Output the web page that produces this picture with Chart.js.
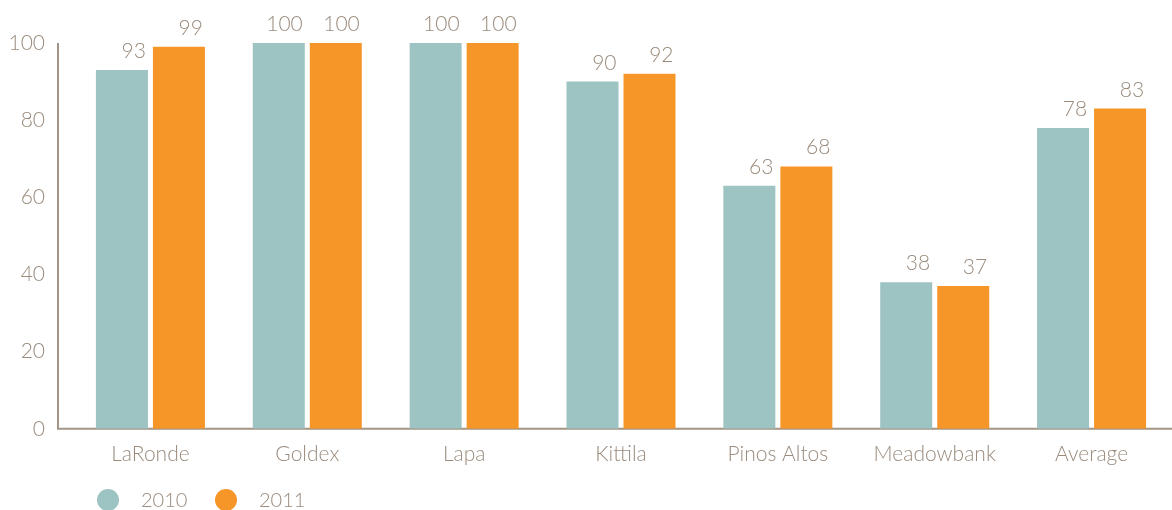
<!DOCTYPE html>
<html>
<head>
<meta charset="utf-8">
<script src="https://cdn.jsdelivr.net/npm/chart.js@4/dist/chart.umd.min.js"></script>
<style>
  html, body { margin: 0; padding: 0; background: #fff; }
  #wrap { width: 1172px; height: 510px; position: relative; }
</style>
</head>
<body>
<div id="wrap"><canvas id="chart"></canvas></div>
<script>
const categories = ["LaRonde", "Goldex", "Lapa", "Kittila", "Pinos Altos", "Meadowbank", "Average"];
const values2010 = [93, 100, 100, 90, 63, 38, 78];
const values2011 = [99, 100, 100, 92, 68, 37, 83];
const yTicks = [0, 20, 40, 60, 80, 100];

const textColor = "#9a8b7d";
const axisColor = "#a39585";
const fontFamily = "Lato, 'Open Sans', sans-serif";

// axis lines drawn a bit left of the plot so the first group sits off the axis
const axisLines = {
  id: "axisLines",
  beforeDatasetsDraw(chart) {
    const { ctx, chartArea } = chart;
    const x0 = chartArea.left - 14;
    ctx.save();
    ctx.strokeStyle = axisColor;
    ctx.lineWidth = 2;
    ctx.beginPath();
    ctx.moveTo(x0, chartArea.top);
    ctx.lineTo(x0, chartArea.bottom);
    ctx.lineTo(chart.width, chartArea.bottom);
    ctx.stroke();
    ctx.restore();
  },
};

// value labels, right aligned over each bar
const barLabels = {
  id: "barLabels",
  afterDatasetsDraw(chart) {
    const { ctx } = chart;
    ctx.save();
    ctx.fillStyle = textColor;
    ctx.font = "300 21px " + fontFamily;
    ctx.textAlign = "right";
    ctx.textBaseline = "alphabetic";
    chart.data.datasets.forEach((ds, i) => {
      chart.getDatasetMeta(i).data.forEach((bar, j) => {
        ctx.fillText(ds.data[j], bar.x + bar.width / 2 - 2, bar.y - 12);
      });
    });
    ctx.restore();
  },
};

// simple legend row under the axis: dot, gap, year
const dotLegend = {
  id: "dotLegend",
  afterDraw(chart) {
    const { ctx } = chart;
    const y = chart.height - 10;
    let x = 97;
    ctx.save();
    ctx.font = "300 20px " + fontFamily;
    ctx.textBaseline = "middle";
    ctx.textAlign = "left";
    chart.data.datasets.forEach((ds) => {
      ctx.fillStyle = ds.backgroundColor;
      ctx.beginPath();
      ctx.arc(x + 11, y, 11, 0, Math.PI * 2);
      ctx.fill();
      ctx.fillStyle = textColor;
      ctx.fillText(ds.label, x + 44, y + 1);
      x += 118;
    });
    ctx.restore();
  },
};

const ctx = document.getElementById("chart").getContext("2d");
const chart = new Chart(ctx, {
  type: "bar",
  data: {
    labels: categories,
    datasets: [
      {
        label: "2010",
        data: values2010,
        backgroundColor: "#9dc3c2",
        categoryPercentage: 0.727,
        barPercentage: 0.912,
      },
      {
        label: "2011",
        data: values2011,
        backgroundColor: "#f79628",
        categoryPercentage: 0.727,
        barPercentage: 0.912,
      },
    ],
  },
  options: {
    responsive: true,
    maintainAspectRatio: false,
    animation: false,
    layout: { padding: { top: 43, right: 2, left: 0, bottom: 38 } },
    scales: {
      x: {
        grid: { display: false },
        border: { display: false },
        ticks: {
          color: textColor,
          font: { family: fontFamily, size: 21, weight: "300" },
          padding: 5,
        },
      },
      y: {
        min: 0,
        max: 100,
        afterBuildTicks: (scale) => {
          scale.ticks = yTicks.map((v) => ({ value: v }));
        },
        afterFit: (scale) => {
          scale.width = 72;
        },
        grid: { display: false },
        border: { display: false },
        ticks: {
          color: textColor,
          font: { family: fontFamily, size: 21, weight: "300" },
          padding: 19,
        },
      },
    },
    plugins: {
      legend: { display: false },
      tooltip: { enabled: false },
    },
  },
  plugins: [axisLines, barLabels, dotLegend],
});
</script>
</body>
</html>
